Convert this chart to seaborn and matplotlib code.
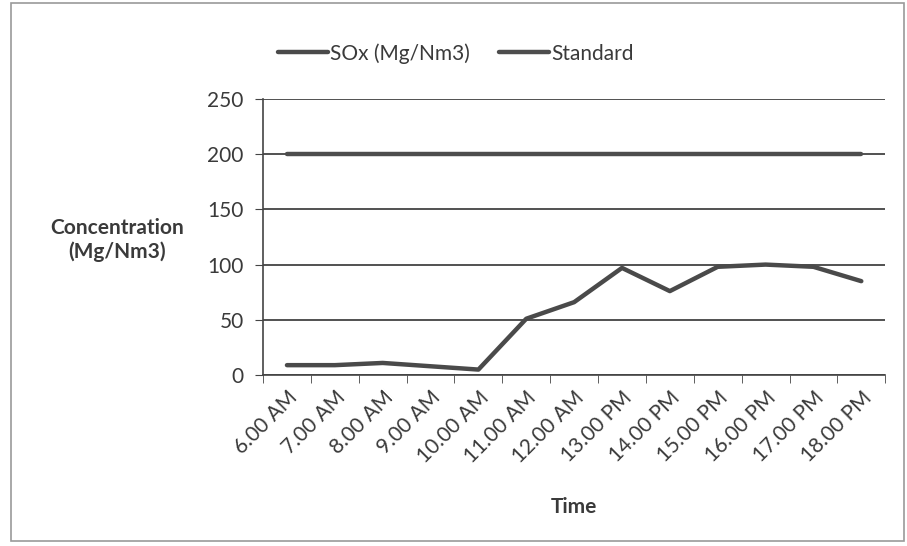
import pandas as pd
import matplotlib.pyplot as plt
import seaborn as sns
from matplotlib.patches import Rectangle
from matplotlib.ticker import FixedLocator

# --- dados ---
times = ['6.00 AM', '7.00 AM', '8.00 AM', '9.00 AM', '10.00 AM', '11.00 AM',
         '12.00 AM', '13.00 PM', '14.00 PM', '15.00 PM', '16.00 PM',
         '17.00 PM', '18.00 PM']
sox = [9, 9, 11, 8, 5, 51, 66, 97, 76, 98, 100, 98, 85]
standard = [200] * len(times)
series_names = ['SOx (Mg/Nm3)', 'Standard']
y_ticks = [0, 50, 100, 150, 200, 250]

df = pd.concat([
    pd.DataFrame({'Time': times, 'value': sox, 'series': series_names[0]}),
    pd.DataFrame({'Time': times, 'value': standard, 'series': series_names[1]}),
])

sns.set_style('white')
plt.rcParams['font.family'] = ['Lato', 'DejaVu Sans']
ink = '#3a3a3a'

fig = plt.figure(figsize=(9.07, 5.46), dpi=100)
ax = fig.add_axes([0.29, 0.313, 0.686, 0.506])

sns.lineplot(data=df, x='Time', y='value', hue='series',
             palette=['#4a4a4a', '#4d4d4d'], linewidth=3.2, ax=ax,
             sort=False)

ax.set_xlim(-0.5, len(times) - 0.5)
ax.set_ylim(0, 250)
ax.set_yticks(y_ticks)
ax.yaxis.grid(True, color='#333333', linewidth=1.2)
ax.xaxis.grid(False)
for side in ['top', 'right']:
    ax.spines[side].set_visible(False)
for side in ['left', 'bottom']:
    ax.spines[side].set_color('#444444')
    ax.spines[side].set_linewidth(1.2)

# ticks nas fronteiras das categorias (estilo Excel)
ax.set_xticks(range(len(times)))
ax.set_xticklabels(times, rotation=45, ha='right', rotation_mode='anchor',
                   fontsize=15, color=ink)
ax.xaxis.set_minor_locator(FixedLocator([i - 0.5 for i in range(len(times) + 1)]))
ax.tick_params(axis='x', which='major', length=0, pad=9)
ax.tick_params(axis='x', which='minor', length=6, color='#444444', bottom=True)
ax.tick_params(axis='y', length=6, color='#444444', left=True,
               labelsize=15, labelcolor=ink, pad=8)

ax.set_xlabel('Time', fontsize=15, fontweight='bold', color=ink, labelpad=22)
ax.set_ylabel('Concentration\n(Mg/Nm3)', fontsize=15, fontweight='bold',
              color=ink, rotation=0, ha='center', va='center')
ax.yaxis.set_label_coords(-0.235, 0.49)

leg = ax.legend(loc='center', bbox_to_anchor=(0.31, 1.165), ncol=2,
                frameon=False, fontsize=15, handlelength=2.4,
                columnspacing=1.4, handletextpad=0.1)
for txt in leg.get_texts():
    txt.set_color(ink)

fig.patches.append(Rectangle((0.012, 0.01), 0.985, 0.985,
                             transform=fig.transFigure, fill=False,
                             edgecolor='#9a9a9a', linewidth=1.2))

plt.savefig('out.png', dpi=100)
